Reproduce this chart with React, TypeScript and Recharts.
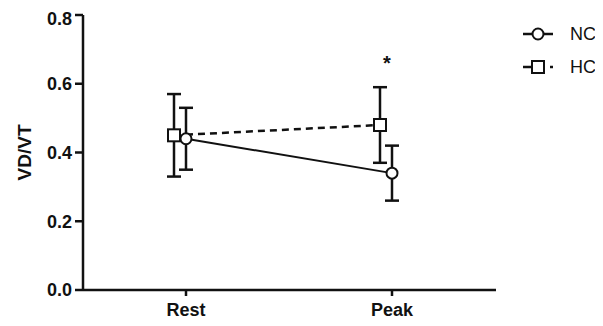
import React from "react";
import { LineChart, Line, XAxis, YAxis, ErrorBar, Legend, ReferenceDot } from "recharts";

const categories = ["Rest", "Peak"];
const ncMean = [0.44, 0.34];
const ncSem = [0.09, 0.08];
const hcMean = [0.45, 0.48];
const hcSem = [0.12, 0.11];
const yTicks = [0, 0.2, 0.4, 0.6, 0.8];
const yLabel = "VD/VT";
const seriesNames = ["NC", "HC"];
const sigCategory = "Peak";
const sigValue = 0.66;
const sigMark = "*";

const data = categories.map((name, i) => ({
  name,
  nc: ncMean[i],
  ncErr: ncSem[i],
  hc: hcMean[i],
  hcErr: hcSem[i],
}));

const FONT = "'Liberation Sans', Arial, Helvetica, sans-serif";
const INK = "#111";

function SquareDot(props: any) {
  const { cx, cy, index } = props;
  if (cx == null || cy == null) return null;
  return (
    <rect
      key={`sq-${index}`}
      x={cx - 6}
      y={cy - 6}
      width={12}
      height={12}
      fill="#fff"
      stroke={INK}
      strokeWidth={2}
    />
  );
}

function LegendBox() {
  return (
    <svg width={85} height={56} style={{ overflow: "visible" }}>
      {seriesNames.map((name, i) => {
        const y = 10 + i * 33;
        const isHC = name === "HC";
        return (
          <g key={name}>
            {isHC ? (
              <>
                <line x1={0} x2={9} y1={y} y2={y} stroke={INK} strokeWidth={2.5} />
                <line x1={27} x2={30} y1={y} y2={y} stroke={INK} strokeWidth={2.5} />
                <rect x={9} y={y - 6} width={12} height={12} fill="#fff" stroke={INK} strokeWidth={2} />
              </>
            ) : (
              <>
                <line x1={0} x2={30} y1={y} y2={y} stroke={INK} strokeWidth={2.5} />
                <circle cx={15} cy={y} r={5.5} fill="#fff" stroke={INK} strokeWidth={2} />
              </>
            )}
            <text
              x={47}
              y={y}
              dominantBaseline="central"
              fontSize={18}
              fontFamily={FONT}
              fill={INK}
            >
              {name}
            </text>
          </g>
        );
      })}
    </svg>
  );
}

export default function App() {
  return (
    <div style={{ fontFamily: FONT }}>
      <LineChart
        width={595}
        height={318}
        data={data}
        margin={{ top: 7, right: 107, bottom: 0, left: 0 }}
      >
        <XAxis
          xAxisId="nc"
          dataKey="name"
          padding={{ left: 103, right: 104 }}
          height={36}
          tickSize={6}
          tickMargin={7}
          axisLine={{ stroke: INK, strokeWidth: 2.5 }}
          tickLine={{ stroke: INK, strokeWidth: 2.5 }}
          tick={{ fill: INK, fontSize: 18, fontWeight: "bold", fontFamily: FONT }}
        />
        <XAxis
          xAxisId="hc"
          dataKey="name"
          hide
          height={0}
          padding={{ left: 91, right: 116 }}
        />
        <YAxis
          domain={[0, 0.8]}
          ticks={yTicks}
          width={75}
          tickSize={8}
          tickMargin={3}
          tickFormatter={(v: number) => v.toFixed(1)}
          axisLine={{ stroke: INK, strokeWidth: 2.5 }}
          tickLine={{ stroke: INK, strokeWidth: 2.5 }}
          tick={{ fill: INK, fontSize: 18, fontWeight: "bold", fontFamily: FONT }}
          label={{
            content: (p: any) => {
              const vb = p.viewBox || {};
              const x = (vb.x ?? 0) + 16;
              const y = (vb.y ?? 0) + (vb.height ?? 0) / 2;
              return (
                <text
                  x={x}
                  y={y}
                  transform={`rotate(-90, ${x}, ${y})`}
                  textAnchor="middle"
                  dominantBaseline="central"
                  fontSize={19}
                  fontWeight="bold"
                  fontFamily={FONT}
                  fill={INK}
                >
                  {yLabel}
                </text>
              );
            },
          }}
        />
        <Legend
          layout="vertical"
          align="center"
          verticalAlign="middle"
          content={() => <LegendBox />}
          wrapperStyle={{ position: "absolute", top: 16, left: 515, width: 85, height: 56 }}
        />
        <Line
          xAxisId="hc"
          dataKey="hc"
          name="HC"
          stroke={INK}
          strokeWidth={2.5}
          strokeDasharray="7 5"
          dot={(p: any) => <SquareDot {...p} />}
          activeDot={false}
          isAnimationActive={false}
        >
          <ErrorBar dataKey="hcErr" width={7} stroke={INK} strokeWidth={2.5} direction="y" />
        </Line>
        <Line
          xAxisId="nc"
          dataKey="nc"
          name="NC"
          stroke={INK}
          strokeWidth={2}
          dot={{ r: 5.5, fill: "#fff", stroke: INK, strokeWidth: 2 }}
          activeDot={false}
          isAnimationActive={false}
        >
          <ErrorBar dataKey="ncErr" width={7} stroke={INK} strokeWidth={2.5} direction="y" />
        </Line>
        <ReferenceDot
          xAxisId="nc"
          x={sigCategory}
          y={sigValue}
          r={0}
          label={{
            value: sigMark,
            position: "center",
            dx: -5,
            fontSize: 20,
            fontWeight: "bold",
            fontFamily: FONT,
            fill: INK,
          }}
        />
      </LineChart>
    </div>
  );
}
